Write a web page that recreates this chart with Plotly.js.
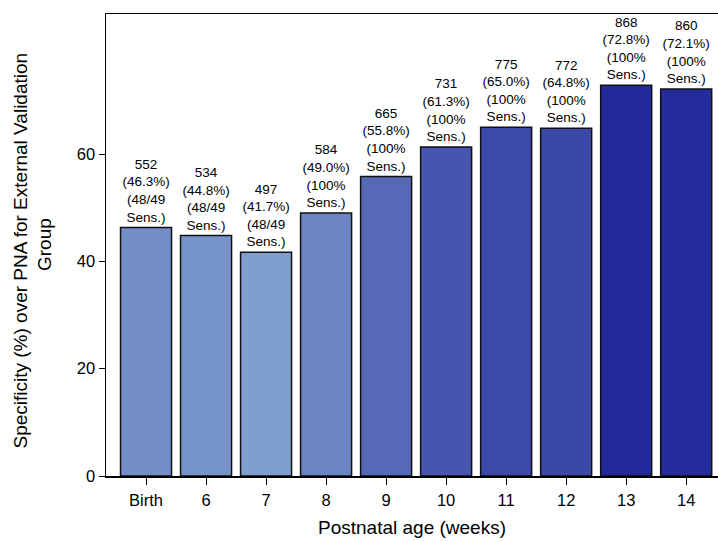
<!DOCTYPE html>
<html>
<head>
<meta charset="utf-8">
<script src="https://cdn.plot.ly/plotly-3.0.1.min.js"></script>
<style>html,body{margin:0;padding:0;background:#fff;}#chart{width:718px;height:541px;}</style>
</head>
<body>
<div id="chart"></div>
<script>
const categories = ["Birth", "6", "7", "8", "9", "10", "11", "12", "13", "14"];
const specificity = [46.3, 44.8, 41.7, 49.0, 55.8, 61.3, 65.0, 64.8, 72.8, 72.1];
const counts = [552, 534, 497, 584, 665, 731, 775, 772, 868, 860];
const sensitivity = ["48/49", "48/49", "48/49", "100%", "100%", "100%", "100%", "100%", "100%", "100%"];
const barColors = ["#738dc6", "#7694c9", "#809fcf", "#6b84c3", "#5669b6", "#4655ad", "#3b4aa9", "#3b48a7", "#22299b", "#242b9c"];
const yTitleLines = ["Specificity (%) over PNA for External Validation", "Group"];

const labels = categories.map((c, i) =>
  counts[i] + "<br>(" + specificity[i].toFixed(1) + "%)<br>(" + sensitivity[i] + "<br>Sens.)");

const trace = {
  type: "bar",
  x: categories,
  y: specificity,
  text: labels,
  textposition: "outside",
  cliponaxis: false,
  constraintext: "none",
  textfont: {family: "Liberation Sans, Arial, sans-serif", size: 13.5, color: "#000"},
  marker: {color: barColors, line: {color: "#111", width: 1.5}},
  hoverinfo: "none"
};

const layout = {
  width: 718, height: 541,
  margin: {l: 106, r: 0, t: 14, b: 65},
  paper_bgcolor: "#fff", plot_bgcolor: "#fff",
  font: {family: "Liberation Sans, Arial, sans-serif", color: "#000"},
  bargap: 0.15,
  showlegend: false,
  xaxis: {
    type: "category",
    range: [-0.667, 9.53],
    showline: true, linecolor: "#000", linewidth: 1.5, mirror: true,
    ticks: "outside", ticklen: 7, tickwidth: 1, tickcolor: "#000",
    tickfont: {size: 16.5}, ticklabelstandoff: 2,
    showgrid: false, zeroline: false,
    title: {text: "Postnatal age (weeks)", font: {size: 19}, standoff: 12}
  },
  yaxis: {
    range: [0, 86.1],
    tickvals: [0, 20, 40, 60],
    showline: true, linecolor: "#000", linewidth: 1.5,
    ticks: "outside", ticklen: 6, tickwidth: 1, tickcolor: "#000",
    tickfont: {size: 16.5},
    showgrid: false, zeroline: false
  },
  annotations: [
    {text: yTitleLines[0], xref: "paper", yref: "paper", x: -0.1397, y: 0.487,
     xanchor: "center", yanchor: "middle", textangle: -90, showarrow: false,
     font: {size: 19, color: "#000"}},
    {text: yTitleLines[1], xref: "paper", yref: "paper", x: -0.1013, y: 0.5,
     xanchor: "center", yanchor: "middle", textangle: -90, showarrow: false,
     font: {size: 19, color: "#000"}}
  ]
};

Plotly.newPlot("chart", [trace], layout, {displayModeBar: false, staticPlot: true});
</script>
</body>
</html>
